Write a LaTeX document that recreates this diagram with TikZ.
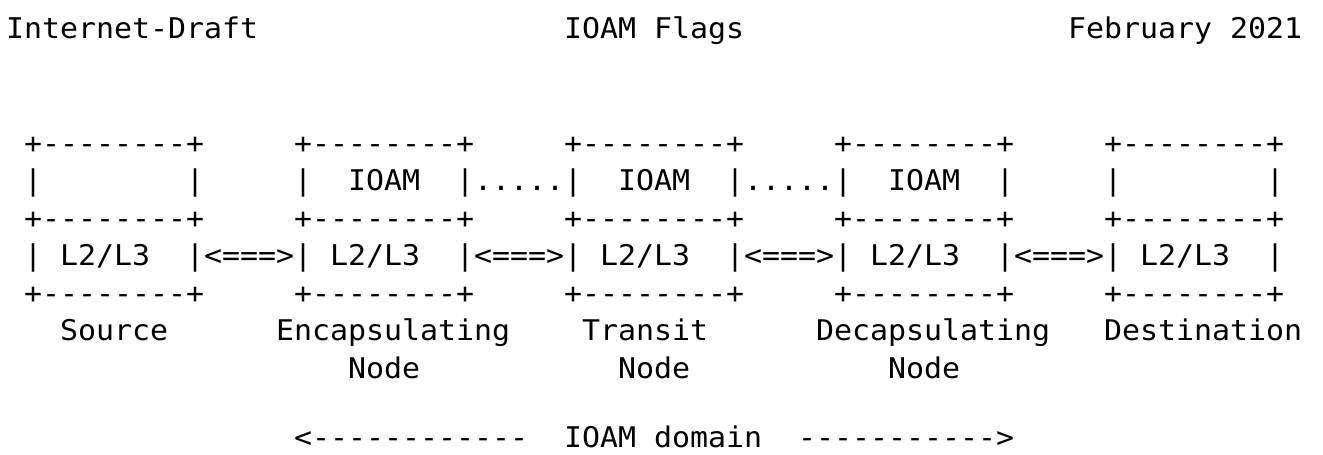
\documentclass[tikz,border=0pt]{standalone}
\usepackage{fontspec}
\newfontfamily\monofont[Ligatures=TeXOff,FakeStretch=1.05]{DejaVu Sans Mono}
\begin{document}
\begin{tikzpicture}[x=1pt,y=-1pt,
  mono/.style={font=\monofont\fontsize{28.5pt}{37.5pt}\selectfont,
    anchor=base west, inner sep=0pt, outer sep=0pt, text=black}]
\useasboundingbox (0,0) rectangle (1323,455);
% character grid: column advance and left offset
\def\cw{18}
\def\xo{6}
% page header
\node[mono] (draft) at ({\xo+\cw*0},38)  {Internet-Draft};
\node[mono] (title) at ({\xo+\cw*31},38) {IOAM Flags};
\node[mono] (date)  at ({\xo+\cw*59},38) {February 2021};
% five stacked boxes: upper (IOAM) layer over L2/L3 layer
\foreach \c [count=\i] in {1,16,31,46,61} {
  \node[mono] (top\i) at ({\xo+\cw*\c},153) {+--------+};
  \node[mono] (bl\i)  at ({\xo+\cw*\c},190.5) {|};
  \node[mono] (br\i)  at ({\xo+\cw*(\c+9)},190.5) {|};
  \node[mono] (mid\i) at ({\xo+\cw*\c},228) {+--------+};
  \node[mono] (ll\i)  at ({\xo+\cw*\c},265.5) {|};
  \node[mono] (lay\i) at ({\xo+\cw*(\c+2)},265.5) {L2/L3};
  \node[mono] (lr\i)  at ({\xo+\cw*(\c+9)},265.5) {|};
  \node[mono] (bot\i) at ({\xo+\cw*\c},303) {+--------+};
}
% IOAM layer in the three IOAM nodes
\foreach \c [count=\i from 2] in {16,31,46} {
  \node[mono] (ioam\i) at ({\xo+\cw*(\c+3)},190.5) {IOAM};
}
% dotted IOAM relations between IOAM layers
\foreach \c [count=\i from 2] in {16,31} {
  \node[mono] (dots\i) at ({\xo+\cw*(\c+10)},190.5) {.....};
}
% L2/L3 links between neighbouring nodes
\foreach \c [count=\i] in {1,16,31,46} {
  \node[mono] (link\i) at ({\xo+\cw*(\c+10)},265.5) {<===>};
}
% node captions
\node[mono] (src)   at ({\xo+\cw*3},340.5)  {Source};
\node[mono] (enc)   at ({\xo+\cw*15},340.5) {Encapsulating};
\node[mono] (tra)   at ({\xo+\cw*32},340.5) {Transit};
\node[mono] (dec)   at ({\xo+\cw*45},340.5) {Decapsulating};
\node[mono] (dst)   at ({\xo+\cw*61},340.5) {Destination};
\node[mono] (encn)  at ({\xo+\cw*19},378)   {Node};
\node[mono] (tran)  at ({\xo+\cw*34},378)   {Node};
\node[mono] (decn)  at ({\xo+\cw*49},378)   {Node};
% extent of the IOAM domain
\node[mono] (dl)  at ({\xo+\cw*16},447.5)  {<------------};
\node[mono] (dom) at ({\xo+\cw*31},447.5)  {IOAM domain};
\node[mono] (dr)  at ({\xo+\cw*44},447.5)  {----------->};
\end{tikzpicture}
\end{document}
